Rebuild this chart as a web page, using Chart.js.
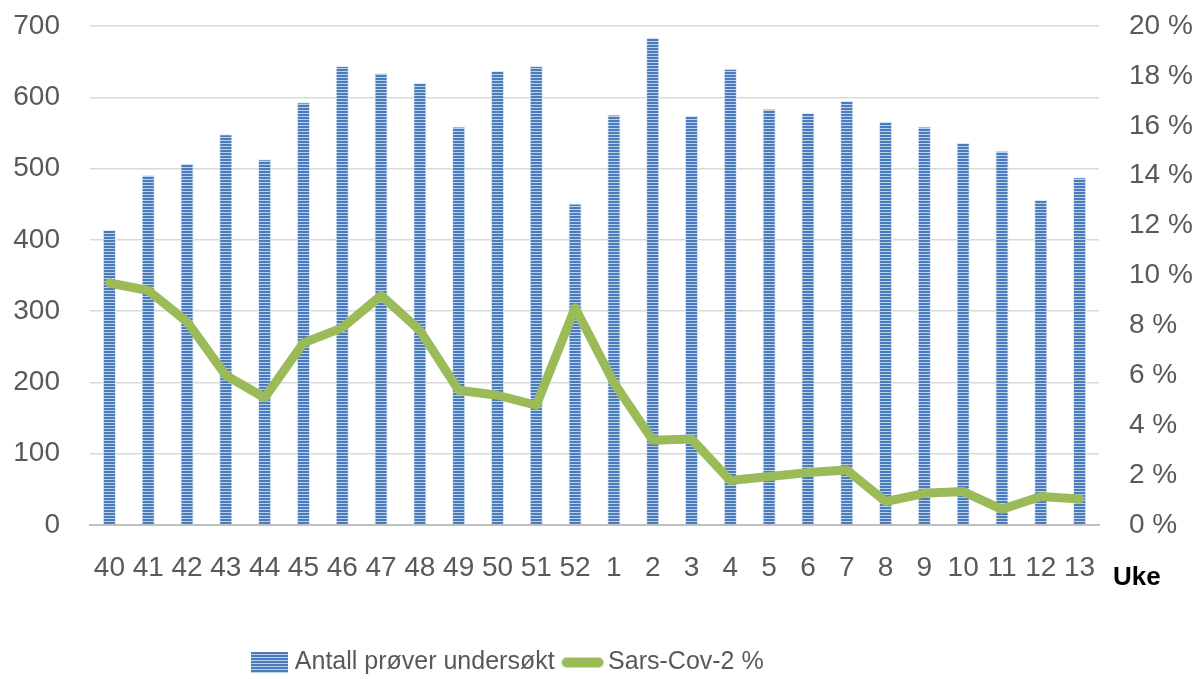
<!DOCTYPE html>
<html>
<head>
<meta charset="utf-8">
<script src="https://cdn.jsdelivr.net/npm/chart.js@4/dist/chart.umd.min.js"></script>
<style>
  html, body { margin: 0; padding: 0; background: #fff; }
  #wrap { width: 1197px; height: 679px; }
</style>
</head>
<body>
<div id="wrap"><canvas id="proveChart"></canvas></div>
<script>
// uke-nummer og verdier lest av figuren
var uker = ['40', '41', '42', '43', '44', '45', '46', '47', '48', '49', '50', '51', '52',
            '1', '2', '3', '4', '5', '6', '7', '8', '9', '10', '11', '12', '13'];
var antallProver = [414, 491, 507, 548, 513, 593, 644, 634, 620, 559, 637, 644, 451,
                    576, 684, 574, 640, 584, 578, 595, 566, 559, 536, 525, 456, 488];
var sarsCov2Prosent = [9.7, 9.4, 8.15, 6.0, 5.1, 7.3, 7.9, 9.2, 7.8, 5.4, 5.2, 4.8, 8.7,
                       5.7, 3.4, 3.45, 1.78, 1.94, 2.1, 2.2, 0.94, 1.27, 1.34, 0.63, 1.14, 1.04];
var venstreTicks = [0, 100, 200, 300, 400, 500, 600, 700];
var hoyreTicks = [0, 2, 4, 6, 8, 10, 12, 14, 16, 18, 20];

var fontFamily = "'Liberation Sans', Arial, sans-serif";

// stripet monster for stolpene
function lagStriper(w, h) {
    var c = document.createElement('canvas');
    c.width = w; c.height = h;
    var g = c.getContext('2d');
    for (var y = 0; y < h; y += 3) {
        g.fillStyle = '#4a7cbd';
        g.fillRect(0, y, w, 2);
        g.fillStyle = '#bcd0ea';
        g.fillRect(0, y + 2, w, 1);
    }
    return c;
}

document.addEventListener('DOMContentLoaded', function () {
    var canvas = document.getElementById('proveChart');
    var ctx = canvas.getContext('2d');
    var striper = ctx.createPattern(lagStriper(4, 3), 'repeat');

    // symboler i tegnforklaringen
    var stolpeSymbol = lagStriper(37, 21);
    var linjeSymbol = document.createElement('canvas');
    linjeSymbol.width = 44; linjeSymbol.height = 12;
    var lg = linjeSymbol.getContext('2d');
    lg.strokeStyle = '#9bbb59';
    lg.lineWidth = 10;
    lg.lineCap = 'round';
    lg.beginPath(); lg.moveTo(6, 6); lg.lineTo(38, 6); lg.stroke();

    var ukeTekst = {
        id: 'ukeTekst',
        afterLayout: function (chart) {
            // flytt tegnforklaringen slik som i originalen
            chart.legend.right -= 177;
            chart.legend.top += 6;
            chart.legend.bottom += 6;
        },
        afterDraw: function (chart) {
            var c = chart.ctx;
            c.save();
            c.font = 'bold 26px ' + fontFamily;
            c.fillStyle = '#000';
            c.textBaseline = 'middle';
            c.fillText('Uke', chart.chartArea.right + 14, chart.chartArea.bottom + 53);
            c.restore();
        }
    };

    function fastBredde(w) {
        return function (s) {
            s.width = w;
            s.paddingTop = 0;
            s.paddingBottom = 0;
        };
    }

    new Chart(ctx, {
        type: 'bar',
        data: {
            labels: uker,
            datasets: [{
                type: 'bar',
                label: 'Antall prøver undersøkt',
                data: antallProver,
                yAxisID: 'y',
                backgroundColor: striper,
                borderColor: 'rgba(220, 232, 246, 0.9)',
                borderWidth: 1,
                barPercentage: 0.34,
                categoryPercentage: 1,
                order: 2
            }, {
                type: 'line',
                label: 'Sars-Cov-2 %',
                data: sarsCov2Prosent,
                yAxisID: 'y1',
                borderColor: '#9bbb59',
                backgroundColor: '#9bbb59',
                borderWidth: 9,
                borderJoinStyle: 'round',
                borderCapStyle: 'round',
                pointRadius: 0,
                tension: 0,
                order: 1
            }]
        },
        options: {
            responsive: true,
            maintainAspectRatio: false,
            animation: false,
            layout: { padding: { top: 26, bottom: 0, left: 0, right: 0 } },
            plugins: {
                tooltip: { enabled: false },
                legend: {
                    position: 'bottom',
                    labels: {
                        usePointStyle: true,
                        pointStyleWidth: 26,
                        padding: 15,
                        color: '#595959',
                        font: { family: fontFamily, size: 25 },
                        generateLabels: function () {
                            return [
                                { text: 'Antall prøver undersøkt', pointStyle: stolpeSymbol, fontColor: '#595959', datasetIndex: 0, hidden: false, lineWidth: 0 },
                                { text: 'Sars-Cov-2 %', pointStyle: linjeSymbol, fontColor: '#595959', datasetIndex: 1, hidden: false, lineWidth: 0 }
                            ];
                        }
                    }
                }
            },
            scales: {
                x: {
                    grid: { color: 'transparent', drawTicks: false },
                    border: { color: '#bfbfbf', width: 2 },
                    ticks: {
                        color: '#595959',
                        font: { family: fontFamily, size: 28 },
                        padding: 26,
                        maxRotation: 0,
                        autoSkip: false
                    },
                    afterFit: function (s) { s.height = 104; }
                },
                y: {
                    position: 'left',
                    min: 0,
                    max: 700,
                    afterBuildTicks: function (s) {
                        s.ticks = venstreTicks.map(function (v) { return { value: v }; });
                    },
                    grid: { color: '#d9d9d9', lineWidth: 1.5, drawTicks: false },
                    border: { display: false },
                    ticks: {
                        color: '#595959',
                        font: { family: fontFamily, size: 28 },
                        padding: 30
                    },
                    afterFit: fastBredde(90)
                },
                y1: {
                    position: 'right',
                    min: 0,
                    max: 20,
                    afterBuildTicks: function (s) {
                        s.ticks = hoyreTicks.map(function (v) { return { value: v }; });
                    },
                    grid: { display: false, drawTicks: false },
                    border: { display: false },
                    ticks: {
                        color: '#595959',
                        font: { family: fontFamily, size: 28 },
                        padding: 30,
                        callback: function (v) { return v + ' %'; }
                    },
                    afterFit: fastBredde(98)
                }
            }
        },
        plugins: [ukeTekst]
    });
});
</script>
</body>
</html>
